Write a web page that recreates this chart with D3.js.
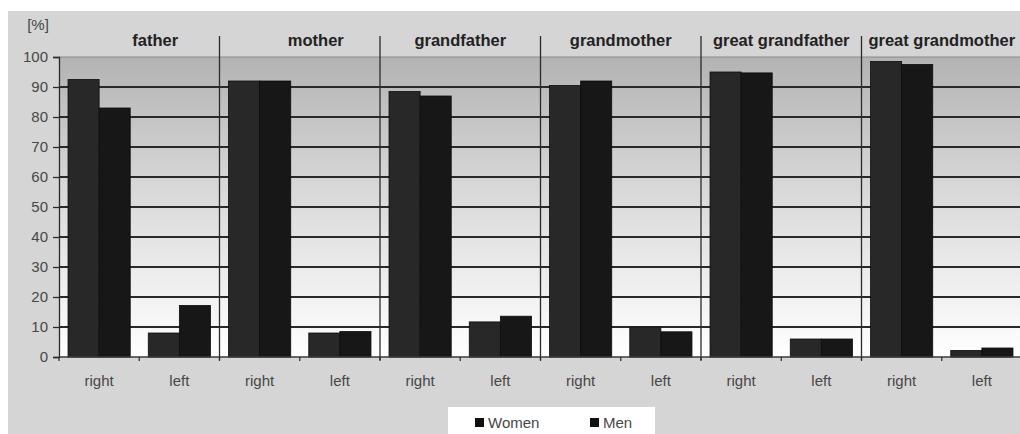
<!DOCTYPE html>
<html><head><meta charset="utf-8">
<script src="https://cdn.jsdelivr.net/npm/d3@7"></script>
<style>
body{margin:0;background:#fff;}
svg{display:block;font-family:"Liberation Sans",Arial,sans-serif;}
</style></head>
<body><svg id="c" width="1020" height="434"></svg>
<script>
// ---- data ----
const relatives = ["father","mother","grandfather","grandmother","great grandfather","great grandmother"];
const titleLabels = ["       father","       mother","grandfather","grandmother","great grandfather","great grandmother"];
const sides = ["right","left"];
const seriesNames = ["Women","Men"];
const womenRight = [92.5, 92, 88.5, 90.5, 95, 98.5];
const menRight   = [83, 92, 87, 92, 94.7, 97.5];
const womenLeft  = [8, 8, 11.7, 10, 6, 2.2];
const menLeft    = [17.2, 8.5, 13.6, 8.4, 6, 3];
const yTicks = [0,10,20,30,40,50,60,70,80,90,100];

// ---- layout ----
const svg = d3.select("#c");
const plotL = 59, plotT = 57, plotB = 357, panelW = 160.5;
const plotR = plotL + panelW * relatives.length;

const defs = svg.append("defs");
const grad = defs.append("linearGradient").attr("id","bg").attr("x1",0).attr("y1",0).attr("x2",0).attr("y2",1);
grad.append("stop").attr("offset","0%").attr("stop-color","#b3b3b3");
grad.append("stop").attr("offset","45%").attr("stop-color","#d9d9d9");
grad.append("stop").attr("offset","88%").attr("stop-color","#f7f7f7");
grad.append("stop").attr("offset","100%").attr("stop-color","#ffffff");

// outer grey backdrop
svg.append("rect").attr("x",8).attr("y",11).attr("width",1012).attr("height",423).attr("fill","#d5d5d5");

const y = d3.scaleLinear().domain([0,100]).range([plotB, plotT]);
const xPanel = d3.scaleBand().domain(relatives).range([plotL, plotR]);
const xSide = d3.scaleBand().domain(sides).range([0, xPanel.bandwidth()]);
const xSer = d3.scaleBand().domain(seriesNames).range([0, xSide.bandwidth()]).paddingInner(0).paddingOuter(0.29);

// plot background gradient
svg.append("rect").attr("x",plotL).attr("y",plotT).attr("width",plotR-plotL).attr("height",plotB-plotT).attr("fill","url(#bg)");

// gridlines
svg.append("g").selectAll("line").data(yTicks.filter(d=>d>0)).join("line")
  .attr("x1",plotL).attr("x2",plotR)
  .attr("y1",d=>y(d)).attr("y2",d=>y(d))
  .attr("stroke",d=>d===100?"#8a8a8a":"#2a2a2a")
  .attr("stroke-width",d=>d===100?1:1.8);

// panel separators
svg.append("g").selectAll("line").data(relatives.slice(1)).join("line")
  .attr("x1",d=>xPanel(d)).attr("x2",d=>xPanel(d))
  .attr("y1",36).attr("y2",plotB+3)
  .attr("stroke","#2a2a2a").attr("stroke-width",1.3);

// bars
const values = {Women:{right:womenRight,left:womenLeft}, Men:{right:menRight,left:menLeft}};
const colors = {Women:"#282828", Men:"#171717"};
const barData = [];
relatives.forEach((r,i)=>sides.forEach(s=>seriesNames.forEach(n=>barData.push({r,s,n,v:values[n][s][i]}))));
svg.append("g").selectAll("rect").data(barData).join("rect")
  .attr("x",d=>xPanel(d.r)+xSide(d.s)+xSer(d.n))
  .attr("width",xSer.bandwidth())
  .attr("y",d=>y(d.v))
  .attr("height",d=>plotB-y(d.v))
  .attr("fill",d=>colors[d.n])
  .attr("stroke","#0d0d0d").attr("stroke-width",0.8);

// y axis
const yAxis = svg.append("g").attr("transform",`translate(${plotL},0)`)
  .call(d3.axisLeft(y).tickValues(yTicks).tickSize(6).tickPadding(5));
yAxis.select(".domain").attr("stroke","#2a2a2a").attr("stroke-width",1.3);
yAxis.selectAll(".tick line").attr("stroke","#2a2a2a").attr("stroke-width",1.3);
yAxis.selectAll("text").attr("font-size",15).attr("fill","#474747").attr("font-family","Liberation Sans, Arial, sans-serif");

svg.append("text").attr("x",38).attr("y",30).attr("text-anchor","middle")
  .attr("font-size",15).attr("fill","#474747").text("[%]");

// x axis line + ticks
svg.append("line").attr("x1",plotL).attr("x2",plotR).attr("y1",plotB).attr("y2",plotB)
  .attr("stroke","#3a3a3a").attr("stroke-width",1.3);
const cats = [];
relatives.forEach(r=>sides.forEach(s=>cats.push({r,s})));
svg.append("g").selectAll("line").data(cats).join("line")
  .attr("x1",d=>xPanel(d.r)+xSide(d.s)).attr("x2",d=>xPanel(d.r)+xSide(d.s))
  .attr("y1",plotB).attr("y2",plotB+4).attr("stroke","#2a2a2a").attr("stroke-width",1.2);
svg.append("g").selectAll("text").data(cats).join("text")
  .attr("x",d=>xPanel(d.r)+xSide(d.s)+xSide.bandwidth()/2)
  .attr("y",386).attr("text-anchor","middle")
  .attr("font-size",15).attr("fill","#474747").text(d=>d.s);

// panel titles
svg.append("g").selectAll("text").data(relatives).join("text")
  .attr("x",d=>xPanel(d)+xPanel.bandwidth()/2)
  .attr("y",46).attr("text-anchor","middle")
  .attr("font-size",16.5).attr("font-weight","bold").attr("fill","#222")
  .style("white-space","pre")
  .text((d,i)=>titleLabels[i]);

// legend
const lg = svg.append("g");
lg.append("rect").attr("x",448).attr("y",407).attr("width",207).attr("height",30).attr("fill","#fff");
const lx = [475, 590];
seriesNames.forEach((n,i)=>{
  lg.append("rect").attr("x",lx[i]).attr("y",418).attr("width",9).attr("height",9).attr("fill","#111");
  lg.append("text").attr("x",lx[i]+13).attr("y",428).attr("font-size",15).attr("fill","#474747").text(n);
});
</script></body></html>
